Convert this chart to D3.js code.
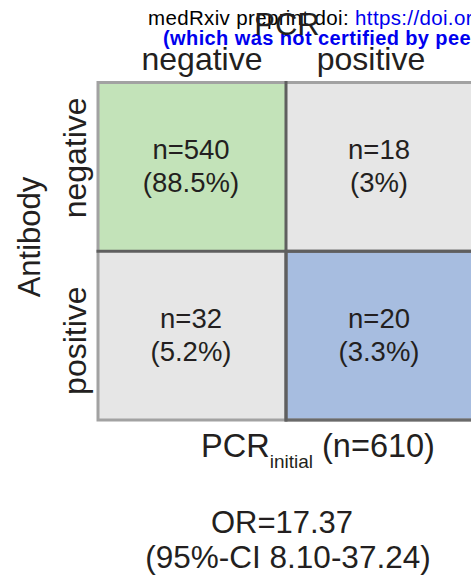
<!DOCTYPE html>
<html>
<head>
<meta charset="utf-8">
<script src="https://cdn.jsdelivr.net/npm/d3@7"></script>
<style>
  html, body { margin: 0; padding: 0; background: #fff; overflow: hidden; }
  svg { display: block; font-family: "Liberation Sans", Arial, sans-serif; }
</style>
</head>
<body>
<svg id="chart" width="471" height="582"></svg>
<script>
// ---- data ----
const pcrCategories = ["negative", "positive"];      // columns (PCR)
const antibodyCategories = ["negative", "positive"]; // rows (Antibody)
const cellCounts = [[540, 18], [32, 20]];             // [row][col]
const cellPercents = ["88.5%", "3%", "5.2%", "3.3%"];
const cellFills = [["#c3e3b9", "#e6e6e6"], ["#e6e6e6", "#a7bde0"]];
const totalN = 610;
const oddsRatio = "17.37";
const ciText = "95%-CI 8.10-37.24";

const svg = d3.select("#chart");
const textColor = "#231f20";

// ---- scales ----
const x = d3.scaleBand().domain(pcrCategories).range([98, 474]).padding(0);
const y = d3.scaleBand().domain(antibodyCategories).range([82.5, 420]).padding(0);

// ---- cells ----
const cells = [];
antibodyCategories.forEach((r, i) => pcrCategories.forEach((c, j) => {
  cells.push({ row: r, col: c, n: cellCounts[i][j], pct: cellPercents[i * 2 + j], fill: cellFills[i][j] });
}));

const g = svg.append("g");
g.selectAll("rect.cell").data(cells).enter().append("rect")
  .attr("class", "cell")
  .attr("x", d => x(d.col)).attr("y", d => y(d.row))
  .attr("width", x.bandwidth()).attr("height", y.bandwidth())
  .attr("fill", d => d.fill);

// outer border
g.append("rect")
  .attr("x", x.range()[0]).attr("y", y.range()[0])
  .attr("width", x.range()[1] - x.range()[0]).attr("height", y.range()[1] - y.range()[0])
  .attr("fill", "none").attr("stroke", "#a2a2a2").attr("stroke-width", 3);

// darker border round the blue cell
g.append("rect")
  .attr("x", x("positive")).attr("y", y("positive"))
  .attr("width", x.bandwidth()).attr("height", y.bandwidth() )
  .attr("fill", "none").attr("stroke", "#6a6a6a").attr("stroke-width", 3);

// inner dividers
g.append("line")
  .attr("x1", x("positive")).attr("x2", x("positive"))
  .attr("y1", y.range()[0] - 1.5).attr("y2", y.range()[1] + 1.5)
  .attr("stroke", "#5f5f5f").attr("stroke-width", 3);
g.append("line")
  .attr("x1", x.range()[0] - 1.5).attr("x2", x.range()[1])
  .attr("y1", y("positive")).attr("y2", y("positive"))
  .attr("stroke", "#5f5f5f").attr("stroke-width", 3);

// cell texts
const ct = g.selectAll("g.ctext").data(cells).enter().append("g")
  .attr("transform", d => `translate(${x(d.col) + x.bandwidth() / 2 - 1},${y(d.row) + y.bandwidth() / 2})`);
ct.append("text").attr("text-anchor", "middle").attr("y", -8)
  .attr("font-size", 27.5).attr("fill", textColor).text(d => "n=" + d.n);
ct.append("text").attr("text-anchor", "middle").attr("y", 25)
  .attr("font-size", 27.5).attr("fill", textColor).text(d => "(" + d.pct + ")");

// column labels
const colOffset = { negative: 10, positive: -9 };
svg.selectAll("text.col").data(pcrCategories).enter().append("text")
  .attr("x", d => x(d) + x.bandwidth() / 2 + colOffset[d]).attr("y", 70)
  .attr("text-anchor", "middle").attr("font-size", 32).attr("fill", textColor).text(d => d);

// row labels
const rowOffset = { negative: -9, positive: 5 };
svg.selectAll("text.row").data(antibodyCategories).enter().append("text")
  .attr("transform", d => `translate(86,${y(d) + y.bandwidth() / 2 + rowOffset[d]}) rotate(-90)`)
  .attr("text-anchor", "middle").attr("font-size", 32).attr("fill", textColor).text(d => d);

// axis titles
svg.append("text").attr("transform", "translate(40,237) rotate(-90)")
  .attr("text-anchor", "middle").attr("font-size", 31).attr("fill", textColor).text("Antibody");

// medRxiv header (overlaps the PCR title, as in the source)
const hdr = svg.append("text").attr("x", 148).attr("y", 25).attr("font-size", 20.5)
  .attr("letter-spacing", 0.35).attr("fill", "#000");
hdr.append("tspan").text("medRxiv preprint doi: ");
hdr.append("tspan").attr("fill", "#0000ee").text("https://doi.org/10.1101/2020.00.00.00000000");
svg.append("text").attr("x", 163).attr("y", 45).attr("font-size", 20).attr("font-weight", "bold")
  .attr("letter-spacing", 0.4).attr("fill", "#0000ee").text("(which was not certified by peer review)");

svg.append("text").attr("x", 287).attr("y", 35).attr("text-anchor", "middle")
  .attr("font-size", 31).attr("fill", textColor).text("PCR");

// bottom title
const bt = svg.append("text").attr("x", 318).attr("y", 457).attr("text-anchor", "middle")
  .attr("font-size", 32.5).attr("fill", textColor);
bt.append("tspan").text("PCR");
bt.append("tspan").attr("font-size", 19).attr("dy", 11).text("initial");
bt.append("tspan").attr("dy", -11).text(" (n=" + totalN + ")");

svg.append("text").attr("x", 282).attr("y", 533).attr("text-anchor", "middle")
  .attr("font-size", 31).attr("fill", textColor).text("OR=" + oddsRatio);
svg.append("text").attr("x", 288).attr("y", 568).attr("text-anchor", "middle")
  .attr("font-size", 31.5).attr("fill", textColor).text("(" + ciText + ")");
</script>
</body>
</html>
